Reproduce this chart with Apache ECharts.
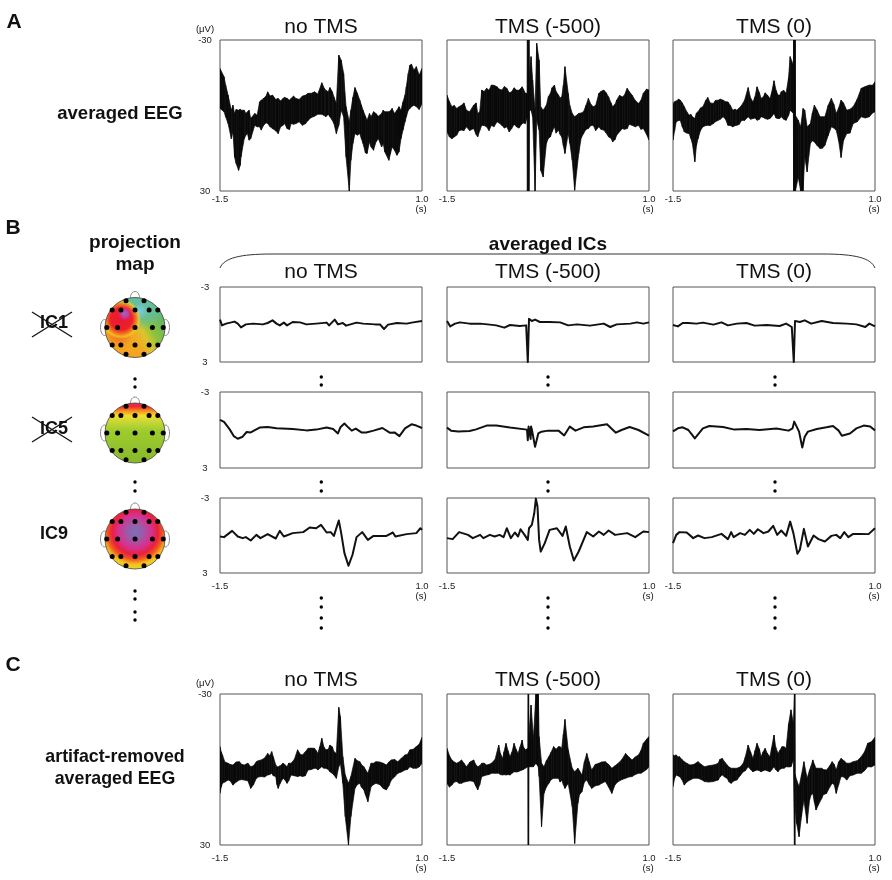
<!DOCTYPE html>
<html><head><meta charset="utf-8">
<style>html,body{margin:0;padding:0;background:#fff}#c{width:892px;height:880px}</style>
<script src="https://cdn.jsdelivr.net/npm/echarts@6/dist/echarts.min.js"></script>
</head><body><div id="c"></div>
<script>
// ---- Envelope of the averaged EEG traces (µV, negative is up), time in s ----
const A1_t=[-1.50,-1.45,-1.40,-1.36,-1.32,-1.27,-1.24,-1.20,-1.16,-1.12,-1.07,-1.01,-0.96,-0.91,-0.85,-0.78,-0.72,-0.67,-0.62,-0.56,-0.48,-0.41,-0.33,-0.24,-0.19,-0.14,-0.09,-0.06,-0.03,0.00,0.03,0.06,0.10,0.12,0.17,0.23,0.27,0.32,0.37,0.43,0.50,0.54,0.59,0.63,0.69,0.74,0.79,0.83,0.87,0.93,1.00];
const A1_hi=[-18.7,-15.4,-8.1,-2.1,-0.8,-2.1,-2.1,-2.1,-1.5,1.2,-0.8,-5.4,-6.8,-9.4,-8.1,-6.8,-6.8,-6.8,-6.8,-6.8,-7.7,-8.8,-9.4,-13,-10,-11.1,-7.4,-4.8,-24,-22,-16.7,-3.5,2.5,-2.1,-11.1,-6.1,-2.1,1.9,0.5,-0.8,-0.8,-1.5,-1.5,-2.8,-2.1,-2.1,-8.1,-16.7,-20.4,-19.4,-18.7];
const A1_lo=[-2.8,-1.5,3.2,9.2,16.5,21.8,16.5,9.2,7.2,9.2,3.9,4.5,3.9,3.2,5.2,7.2,3.9,5.2,3.2,3.2,3.9,1.9,0.3,-0.5,0.5,0.5,3.2,7.2,3.9,-2.1,0.5,16.5,30,17.8,7.2,7.2,11.1,15.1,12.5,10.5,12.5,14.5,17.8,12.5,15.8,9.2,2.5,-2.1,-3.5,-3.5,-4.8];
const A1_t2=[-1.43,-1.34,-1.30,-1.25,-1.18,-1.14,-1.04,-0.99,-0.93,-0.88,-0.81,-0.75,-0.70,-0.64,-0.59,-0.52,-0.44,-0.37,-0.29,-0.21,-0.16,-0.11,0.145,0.20,0.25,0.30,0.35,0.40,0.46,0.52,0.61,0.66,0.715,0.765,0.806,0.85,0.90,0.965];
const A1_hi2=[-12.1,-4.1,-2.4,-2.5,-0.8,-2.1,-0.1,-6.1,-7.7,-7.7,-6.4,-5.8,-7.2,-6.1,-7.7,-6.4,-8.1,-8.8,-8.5,-10.8,-9.4,-9.4,-7.2,-8.8,-4.1,0.3,-0.8,-1.5,0.3,-2.1,-1.9,-0.8,-3.5,-5.4,-11.4,-20,-18,-16];
const A1_lo2=[0.5,6.5,19.1,19.8,7.8,9.8,4.5,5.8,2.9,4.5,6.1,4.5,3.2,5.6,3.5,2.5,3.2,0.8,-0.5,0,-0.5,1.9,11.1,7.8,9.2,14.9,10.5,13.8,9.2,11.1,15.1,13.8,14.5,5.8,0.5,-2.8,-4.1,-2.4];

const A2_t=[-1.5,-1.44,-1.38,-1.32,-1.26,-1.17,-1.12,-1.07,-1.01,-0.95,-0.88,-0.82,-0.76,-0.70,-0.64,-0.57,-0.53,-0.507,-0.505,-0.485,-0.48,-0.46,-0.44,-0.41,-0.39,-0.36,-0.34,-0.31,-0.27,-0.22,-0.17,-0.12,-0.08,-0.04,0.00,0.05,0.08,0.13,0.19,0.25,0.31,0.38,0.44,0.50,0.55,0.60,0.67,0.73,0.79,0.87,0.93,1.00];
const A2_hi=[-8.1,-3.5,-2.8,-4.1,-2.1,-4.1,-0.8,-10.1,-10.8,-12.1,-11.4,-10.1,-10.8,-9.4,-10.1,-11.4,-8.8,-8.8,-30,-30,-15.4,-23.4,-14.1,-2.1,-28.7,-22,-3.5,-2.1,-4.1,-8.8,-12.1,-8.1,-7.4,-19.4,-8.8,-0.8,0.5,-0.8,-1.5,-6.8,-3.5,-8.8,-10.1,-7.4,-3.5,-6.1,-7.4,-10.8,-8.1,-4.8,-8.8,-10.1];
const A2_lo=[6.5,9.2,7.8,5.8,4.5,5.2,8.5,3.9,4.5,3.9,2.5,3.9,4.5,5.2,4.5,3.2,3.2,0.5,30,30,-2.1,-2.1,0.5,30,1.9,5.8,21.8,24.4,11.1,8.5,4.5,5.8,8.5,15.1,7.2,17.8,29.7,15.1,7.2,5.2,3.9,4.5,5.8,8.5,10.5,7.8,5.2,5.2,3.9,3.9,5.2,9.8];
const A2_t2=[-1.47,-1.41,-1.35,-1.29,-1.22,-1.14,-1.095,-1.04,-0.98,-0.92,-0.855,-0.79,-0.73,-0.67,-0.61,-0.555,-0.245,-0.20,-0.15,-0.10,-0.06,0.02,0.16,0.22,0.28,0.34,0.405,0.47,0.53,0.58,0.635,0.695,0.755,0.83,0.90,0.97];
const A2_hi2=[-5.5,-4,-3.5,-5,-1.5,-5,-1.5,-9.5,-10,-12,-10.5,-11.5,-9,-11,-10,-10.5,-7.5,-11,-9.5,-7,-12,-4,-1,-4,-4.5,-4,-9.5,-9,-5,-4.5,-8,-8,-9.5,-6,-6,-10.5];
const A2_lo2=[8.5,8.5,6,6,6,7.5,6,4,6,4.5,3,5,6.5,3.5,5,3,9,6.5,7,7.5,12,11,9,5.5,4,6,5.5,7,9,9.5,6.5,5.5,3.5,4.5,5.5,7.5];

const A3_t=[-1.5,-1.46,-1.41,-1.36,-1.30,-1.26,-1.23,-1.19,-1.13,-1.07,-1.00,-0.94,-0.88,-0.82,-0.76,-0.71,-0.65,-0.57,-0.51,-0.46,-0.41,-0.36,-0.30,-0.25,-0.20,-0.16,-0.10,-0.05,-0.01,-0.007,0.013,0.016,0.05,0.08,0.11,0.13,0.16,0.20,0.25,0.32,0.38,0.46,0.52,0.58,0.65,0.73,0.83,0.93,1.00];
const A3_hi=[-4.8,-5.8,-6.1,-3.5,-0.1,0.5,1.2,-1.5,-3.5,-7.2,-4.8,-6.1,-6.1,-5.4,-2.1,-2.1,-4.1,-11.1,-5.4,-11.4,-6.8,-9,-6.8,-13.8,-8.1,-9.4,-8.8,-23.4,-20,-30,-30,0,1.9,4.5,-2.8,-2.1,4.5,3.2,-4.1,0.5,0.5,-6.8,-0.8,-6.1,-2.1,-3.5,-10.8,-12.1,-13.4];
const A3_lo=[9.8,2.5,1.9,6.5,7.2,11.1,18.4,9.2,4.5,3.9,3.2,1.9,0.5,3.9,4.5,3.9,1.9,0.5,1.2,1.9,0.5,1.2,1.2,-0.8,1.2,0.5,1.9,-2.1,-0.8,30,30,30,24.4,30,30,16.5,22.4,11.1,10.5,13.1,11.8,4.5,5.8,16.7,7.2,3.2,0.5,0.5,-1.5];
const A3_t2=[-1.48,-1.43,-1.385,-1.33,-1.28,-1.21,-1.16,-1.095,-1.04,-0.975,-0.915,-0.85,-0.79,-0.73,-0.68,-0.615,-0.54,-0.485,-0.43,-0.38,-0.33,-0.28,-0.225,-0.18,-0.13,-0.07,0.225,0.285,0.35,0.42,0.49,0.55,0.61,0.69,0.78,0.88,0.97];
const A3_hi2=[-5.5,-6.5,-5,-1.5,-0.5,-1,-3,-6,-5,-6,-6.5,-5.5,-4,-2.5,-3,-6,-7,-7.5,-9,-7.5,-8,-9,-10,-8,-10,-15,-1,-2,0.5,-4,-4.5,-3,-5,-2.5,-6.5,-11.5,-12];
const A3_lo2=[6,2,4.5,7,9,12,6,4,4,2.5,1.5,1.5,4,4,3.5,2,1.5,1,1.5,0.8,1.5,0.5,1,1.2,1.5,0,10,12,13,8,5,10,10,7,2.5,1,-1];

const C1_t=[-1.50,-1.47,-1.40,-1.34,-1.26,-1.20,-1.12,-1.05,-0.99,-0.91,-0.86,-0.81,-0.78,-0.72,-0.67,-0.62,-0.54,-0.48,-0.41,-0.33,-0.29,-0.24,-0.19,-0.14,-0.09,-0.06,-0.03,-0.01,0.02,0.05,0.09,0.12,0.17,0.23,0.28,0.33,0.37,0.43,0.52,0.56,0.62,0.70,0.79,0.85,0.93,1.00];
const C1_hi=[-9.1,-5.8,-2.5,-1.8,-3.1,-1.8,-1.1,-3.1,-3.8,-6.4,-7.1,-1.8,-1.1,-2.5,-1.1,-2.5,-7.8,-5.8,-8.4,-8.4,-6.4,-12.4,-7.8,-9.7,-7.1,-6.4,-24.7,-21,-5.1,2.2,5.5,2.8,-4.4,-3.1,-1.1,1.5,-2.5,-3.1,-2.5,-1.8,-3.8,-3.1,-5.8,-7.8,-9.1,-12.8];
const C1_lo=[9.5,5.5,4.2,6.2,4.2,4.2,7.5,3.5,2.8,2.2,1.5,2.8,7.5,3.5,5.5,2.2,2.8,2.8,0.2,-0.5,0.2,-1.1,-0.5,0.9,2.2,3.5,-1.1,-2.5,5.5,18.7,30,18.7,7.5,5.5,8.1,12.8,6.8,5.5,7.5,8.1,4.2,1.5,0.2,-1.1,-0.5,-2.5];
const C1_t2=[-1.485,-1.44,-1.375,-1.30,-1.23,-1.155,-1.085,-1.025,-0.95,-0.885,-0.84,-0.795,-0.755,-0.70,-0.65,-0.58,-0.505,-0.445,-0.37,-0.31,-0.265,-0.215,-0.16,-0.11,0.20,0.25,0.30,0.40,0.475,0.59,0.66,0.745,0.82,0.89,0.965];
const C1_hi2=[-7,-3,-2,-3,-2,-2.5,-1.5,-3.5,-4.5,-5.5,-5,-1,-1.5,-2,-2.5,-4,-6,-7,-8.5,-7.5,-9,-9,-8,-9,-3.5,-2,0,-2.5,-3,-3,-4,-4.5,-6,-8,-10];
const C1_lo2=[7,5,4.5,5,4,4.5,6,3,3,2,2.5,6,5.5,4,4.5,2.5,2.5,2.5,0,-0.5,-0.5,-0.5,0,1.5,6,7,10,6,6,6.5,3,1,0,-0.5,-1];

const C2_t=[-1.5,-1.44,-1.38,-1.32,-1.26,-1.17,-1.12,-1.07,-1.01,-0.95,-0.86,-0.81,-0.77,-0.72,-0.67,-0.62,-0.57,-0.53,-0.498,-0.495,-0.49,-0.487,-0.46,-0.43,-0.40,-0.37,-0.36,-0.33,-0.30,-0.24,-0.18,-0.12,-0.08,-0.04,0.00,0.05,0.08,0.12,0.17,0.23,0.29,0.38,0.46,0.54,0.62,0.71,0.79,0.87,0.93,1.00];
const C2_hi=[-8.4,-3.8,-2.5,-3.8,-1.1,-3.8,-1.1,-2.5,-1.8,-2.5,-9.7,-4.4,-10.4,-5.1,-10.4,-6.4,-11.7,-7.8,-8.4,-30,-30,-13.1,-25.6,-12.4,-30,-30,-13.1,-2.5,-1.1,-5.1,-9.1,-9.1,-8.4,-19.9,-7.8,-0.5,0.9,-0.5,2.2,-6.4,0.2,-2.5,-3.1,-0.5,-2.5,-6.4,-3.8,-5.8,-10.4,-13.1];
const C2_lo=[5.5,6.2,4.8,5.5,4.8,4.8,8.1,2.8,2.2,1.5,1.5,2.2,2.2,2.2,0.9,0.9,0.2,-0.5,-1.1,30,30,-1.1,-1.1,-1.1,-2.5,-1.1,2.8,22.7,9.5,5.5,3.5,3.5,4.2,7.5,5.5,14.8,29.4,13.4,8.8,4.2,7.5,6.2,4.8,9.5,4.8,3.5,2.8,1.5,0.9,-1.1];
const C2_t2=[-1.47,-1.41,-1.35,-1.29,-1.215,-1.145,-1.095,-1.04,-0.98,-0.905,-0.84,-0.795,-0.745,-0.695,-0.645,-0.595,-0.555,-0.27,-0.21,-0.15,-0.10,-0.06,0.14,0.20,0.26,0.335,0.415,0.50,0.58,0.665,0.75,0.83,0.90,0.97];
const C2_hi2=[-5.5,-3,-3,-2.5,-3,-2,-1.5,-2.5,-2,-4,-6.5,-7,-7.5,-7,-8,-9,-9,-3.5,-7,-8,-9,-14,0.5,-3,-3,-2,-3,-2,-1.5,-4,-5,-5,-7.5,-12];
const C2_lo2=[7,5,5.5,5,4.5,6.5,6,2.5,2,1.5,2,2,2,1.5,1,0.5,0,7,4,3.5,5,6,10,5,6,6.5,5.5,7,6,4,3,2,1.5,0];

const C3_t=[-1.5,-1.46,-1.42,-1.36,-1.29,-1.19,-1.11,-1.00,-0.94,-0.89,-0.83,-0.78,-0.71,-0.63,-0.57,-0.51,-0.46,-0.41,-0.36,-0.30,-0.25,-0.20,-0.15,-0.10,-0.04,-0.01,0.003,0.008,0.012,0.03,0.06,0.09,0.12,0.16,0.19,0.23,0.27,0.34,0.40,0.47,0.52,0.58,0.65,0.73,0.83,0.91,1.00];
const C3_hi=[-5.8,-5.8,-5.1,-3.1,-1.8,-3.1,-1.1,-1.8,-2.5,-4.4,-1.8,-0.5,-0.5,-2.5,-9.7,-4.4,-10.4,-5.1,-8.4,-5.1,-13.7,-6.4,-9.1,-8.4,-23.7,-18.4,-30,-30,2,4.2,6.8,2.2,-3.1,3.5,0.2,-3.8,-0.5,-0.5,0.2,-3.1,0.2,-4.4,-2.5,-3.1,-5.1,-10.4,-12.8];
const C3_lo=[6.8,2.2,2.8,6.2,4.2,3.5,4.8,4.8,4.2,2.2,3.5,5.5,4.2,0.9,-1.1,0.9,0.2,0.9,0.2,0.9,-1.1,0.9,-0.5,-1.1,-1.1,-3.8,30,30,15,21.4,26.7,18.7,12.1,21.4,12.1,9.5,16.1,11.5,9.5,5.5,9.5,2.8,4.2,2.2,1.5,-1.1,-1.8];
const C3_t2=[-1.48,-1.44,-1.39,-1.33,-1.245,-1.15,-1.06,-0.975,-0.92,-0.86,-0.805,-0.745,-0.67,-0.605,-0.54,-0.485,-0.43,-0.385,-0.335,-0.28,-0.23,-0.18,-0.125,-0.07,0.21,0.25,0.30,0.36,0.44,0.495,0.55,0.615,0.69,0.78,0.87,0.955];
const C3_hi2=[-5.5,-5,-4,-2.5,-2,-2,-1.5,-2,-4,-3,-1,-0.5,-1,-5,-7,-7.5,-8,-7,-6.5,-8.5,-9,-7.5,-9,-18,-1.5,-2,-0.5,0,-1.5,-2,-3,-3.5,-2.5,-3.5,-7,-11];
const C3_lo2=[3.5,2.5,4,5,3.5,4,5,4.5,3,3,5,4.5,2.5,0.5,0,0.5,0.5,0.5,0.5,0.2,0,0,-0.5,-1,10,13,14,10,7,6,6,3,2.5,1.5,0.5,-1];

// ---- Averaged independent components ----
const IC1_no_t=[-1.5,-1.475,-1.425,-1.32,-1.28,-1.24,-1.18,-1.09,-0.97,-0.91,-0.85,-0.80,-0.76,-0.71,-0.67,-0.60,-0.51,-0.43,-0.31,-0.18,-0.15,-0.08,-0.04,0.02,0.06,0.19,0.27,0.42,0.48,0.53,0.58,0.69,0.81,0.89,1.0];
const IC1_no_v=[-.39,.07,-.07,-.23,-.07,.23,-.01,-.07,-.01,-.12,-.33,-.07,.07,-.15,.07,-.2,-.17,-.01,-.07,-.15,.07,-.39,-.01,-.12,.09,-.15,-.07,-.01,-.01,.36,.01,-.12,-.07,-.17,-.28];
const IC1_m5_t=[-1.5,-1.46,-1.40,-1.34,-1.22,-1.09,-0.97,-0.89,-0.79,-0.72,-0.60,-0.52,-0.505,-0.50,-0.49,-0.485,-0.45,-0.41,-0.35,-0.23,-0.10,0.0,0.11,0.27,0.44,0.52,0.60,0.77,0.85,0.93,1.0];
const IC1_m5_v=[-.28,.15,-.07,-.17,-.07,-.07,.01,.07,.25,.04,.12,.07,.07,3,3,-.45,-.28,-.39,-.2,-.2,-.17,.07,-.01,.09,-.07,.2,-.01,-.07,-.17,-.07,-.17];
const IC1_z_t=[-1.5,-1.44,-1.38,-1.31,-1.21,-1.13,-1.0,-0.90,-0.82,-0.71,-0.59,-0.49,-0.34,-0.18,-0.10,-0.03,-0.01,-0.005,0.005,0.01,0.07,0.13,0.21,0.34,0.48,0.65,0.77,0.88,0.93,1.0];
const IC1_z_v=[.04,.15,-.12,-.12,-.07,-.15,.01,-.17,.07,-.07,-.12,.09,.04,.12,-.07,.2,.2,3,3,-.28,-.2,-.33,-.07,-.28,-.12,-.07,-.01,.2,-.07,.15];

const IC5_no_t=[-1.5,-1.45,-1.38,-1.33,-1.28,-1.22,-1.17,-1.12,-1.01,-0.91,-0.80,-0.60,-0.43,-0.31,-0.18,-0.10,-0.04,-0.01,0.04,0.09,0.13,0.18,0.25,0.31,0.40,0.51,0.60,0.66,0.72,0.79,0.87,0.93,1.0];
const IC5_no_v=[-.8,-.64,-.05,.48,.69,.53,.16,.19,-.19,-.24,-.13,-.08,.03,-.03,-.19,-.08,.27,-.21,-.51,-.19,.05,-.11,.19,.19,.05,-.16,.21,.19,.48,-.13,-.45,-.35,-.16];
const IC5_m5_t=[-1.5,-1.45,-1.36,-1.22,-1.14,-1.01,-0.89,-0.72,-0.51,-0.50,-0.49,-0.47,-0.465,-0.46,-0.45,-0.41,-0.37,-0.33,-0.25,-0.12,-0.05,0.02,0.09,0.19,0.31,0.48,0.59,0.66,0.76,0.87,1.0];
const IC5_m5_v=[-.19,.05,.11,.08,-.05,-.35,-.35,-.19,-.03,.8,-.27,-.27,.7,-.27,-.05,1.33,.27,.13,.05,.05,.43,-.27,.05,-.21,-.27,-.45,.21,0,-.24,0,.45];
const IC5_z_t=[-1.5,-1.44,-1.38,-1.31,-1.27,-1.23,-1.18,-1.13,-1.05,-0.88,-0.74,-0.59,-0.43,-0.22,-0.07,-0.02,0.0,0.02,0.04,0.06,0.10,0.13,0.17,0.28,0.40,0.48,0.55,0.59,0.69,0.77,0.86,0.94,1.0];
const IC5_z_v=[.11,-.13,-.21,0,.32,.66,.27,-.13,-.32,-.24,-.03,-.08,0,-.11,.05,-.13,-.66,-.4,-.53,.13,1.38,.53,.13,-.08,-.21,-.32,.05,.45,.27,-.13,-.35,-.27,.03];

const IC9_no_t=[-1.5,-1.45,-1.35,-1.28,-1.22,-1.18,-1.12,-1.05,-1.0,-0.91,-0.81,-0.76,-0.71,-0.60,-0.47,-0.39,-0.31,-0.25,-0.18,-0.13,-0.09,-0.03,0.0,0.04,0.09,0.14,0.19,0.26,0.33,0.40,0.56,0.64,0.67,0.81,0.93,0.98,1.0];
const IC9_no_v=[.08,.13,-.37,.08,.21,.13,.4,-.05,.21,-.11,.24,-.37,.08,-.19,-.27,-.64,-.58,-.85,-.24,-.27,.03,-1.2,-.19,1.41,2.42,1.54,.13,-.27,.35,.03,.03,-.24,.08,-.11,-.19,-.58,-.45];
const IC9_m5_t=[-1.5,-1.43,-1.35,-1.24,-1.18,-1.09,-1.05,-0.97,-0.91,-0.85,-0.80,-0.76,-0.71,-0.66,-0.62,-0.59,-0.54,-0.50,-0.485,-0.45,-0.42,-0.40,-0.38,-0.36,-0.34,-0.29,-0.23,-0.14,-0.07,-0.03,0.02,0.07,0.13,0.23,0.31,0.38,0.44,0.50,0.58,0.73,0.83,0.93,1.0];
const IC9_m5_v=[.21,.29,-.27,-.05,.21,-.05,.21,-.05,.08,-.05,.13,-.58,.21,-.24,.08,-.5,-.05,.35,-.58,-.85,-1.78,-2.95,-2.32,.35,1.28,.61,-.45,-.58,.03,-.72,.88,2.0,1.28,-.27,.08,-.32,-.05,-.4,-.05,-.19,.13,-.32,-.27];
const IC9_z_t=[-1.5,-1.46,-1.42,-1.33,-1.25,-1.19,-1.11,-1.02,-0.90,-0.82,-0.78,-0.75,-0.67,-0.61,-0.55,-0.50,-0.45,-0.38,-0.32,-0.26,-0.21,-0.16,-0.10,-0.05,-0.01,0.04,0.07,0.12,0.17,0.24,0.30,0.38,0.46,0.52,0.57,0.62,0.67,0.73,0.81,0.92,1.0];
const IC9_z_v=[.61,-.05,-.27,-.24,.21,0,.21,.13,-.13,.29,-.27,.13,-.19,-.05,-.45,-.13,-.5,-.19,-.32,-.77,-.05,-.4,.03,-1.11,-.19,1.46,1.14,-.53,.88,0,.29,.48,.03,-.05,.21,-.27,.13,-.13,-.13,-.11,-.58];

// ---- Electrode positions on the projection maps (normalised head coordinates) ----
const elecX=[-.3,.3,-.76,-.47,0,.47,.76,-.94,-.58,0,.58,.94,-.76,-.47,0,.47,.76,-.3,.3];
const elecY=[.89,.89,.58,.58,.58,.58,.58,0,0,0,0,0,-.58,-.58,-.58,-.58,-.58,-.89,-.89];

// ---- Labels ----
const conditions=['no TMS','TMS (-500)','TMS (0)'];
const eegTicks=[-30,30], icTicks=[-3,3], timeTicks=[-1.5,1.0];

// ---- Layout ----
const FONT='"Liberation Sans",Arial,sans-serif';
const colX=[220,447,673], PW=202;
function mergeBand(t,hi,lo,t2,hi2,lo2){
  return t.map((x,k)=>[x,hi[k],lo[k]]).concat(t2.map((x,k)=>[x,hi2[k],lo2[k]])).sort((a,b)=>a[0]-b[0]);
}
const eegRows=[{top:40,h:151,m:3,panels:[mergeBand(A1_t,A1_hi,A1_lo,A1_t2,A1_hi2,A1_lo2),mergeBand(A2_t,A2_hi,A2_lo,A2_t2,A2_hi2,A2_lo2),mergeBand(A3_t,A3_hi,A3_lo,A3_t2,A3_hi2,A3_lo2)]},
               {top:694,h:151,m:8,panels:[mergeBand(C1_t,C1_hi,C1_lo,C1_t2,C1_hi2,C1_lo2),mergeBand(C2_t,C2_hi,C2_lo,C2_t2,C2_hi2,C2_lo2),mergeBand(C3_t,C3_hi,C3_lo,C3_t2,C3_hi2,C3_lo2)]}];
const icRows=[{top:287,h:75,panels:[[IC1_no_t,IC1_no_v],[IC1_m5_t,IC1_m5_v],[IC1_z_t,IC1_z_v]]},
              {top:392,h:76,panels:[[IC5_no_t,IC5_no_v],[IC5_m5_t,IC5_m5_v],[IC5_z_t,IC5_z_v]]},
              {top:498,h:75,panels:[[IC9_no_t,IC9_no_v],[IC9_m5_t,IC9_m5_v],[IC9_z_t,IC9_z_v]]}];
const grid=[],xAxis=[],yAxis=[],series=[];
const lab={color:'#222',fontFamily:FONT,fontSize:9.5};
function addPanel(left,top,w,h,yr,yTicks,showX,showY,xm){
  const i=grid.length;
  grid.push({left,top,width:w,height:h,show:true,borderColor:'#555',borderWidth:1,containLabel:false});
  xAxis.push({gridIndex:i,type:'value',min:-1.5,max:1.0,axisLine:{show:false},axisTick:{show:false},splitLine:{show:false},
    axisLabel:{show:showX,customValues:timeTicks,margin:xm,formatter:v=>Number(v).toFixed(1),...lab}});
  yAxis.push({gridIndex:i,type:'value',min:-yr,max:yr,inverse:true,axisLine:{show:false},axisTick:{show:false},splitLine:{show:false},
    axisLabel:{show:showY,customValues:yTicks,margin:15,align:'center',formatter:v=>String(v),...lab}});
  return i;
}
function bandItem(rows){
  return function(params,api){
    const k=params.dataIndex; if(k>=rows.length-1) return;
    const a=rows[k],b=rows[k+1];
    const pts=[api.coord([a[0],a[1]]),api.coord([b[0],b[1]]),api.coord([b[0],b[2]]),api.coord([a[0],a[2]])];
    return {type:'polygon',shape:{points:pts},style:{fill:'#0a0a0a',stroke:'#0a0a0a',lineWidth:0.7}};
  };
}
eegRows.forEach(r=>r.panels.forEach((rows,c)=>{
  const i=addPanel(colX[c],r.top,PW,r.h,30,eegTicks,true,c===0,r.m);
  series.push({type:'custom',xAxisIndex:i,yAxisIndex:i,clip:true,data:rows,encode:{x:0,y:[1,2]},renderItem:bandItem(rows),silent:true});
}));
icRows.forEach((r,ri)=>r.panels.forEach((p,c)=>{
  const i=addPanel(colX[c],r.top,PW,r.h,3,icTicks,ri===2,c===0,8);
  const [t,v]=p;
  series.push({type:'line',xAxisIndex:i,yAxisIndex:i,data:t.map((x,k)=>[x,v[k]]),showSymbol:false,silent:true,clip:true,
    lineStyle:{color:'#111',width:2,join:'round'}});
}));
// heads
const heads=[{cy:327.5},{cy:433},{cy:539}], HX=135, HR=30;
heads.forEach(h=>{
  const i=grid.length;
  grid.push({left:HX-HR,top:h.cy-HR,width:2*HR,height:2*HR,show:false});
  xAxis.push({gridIndex:i,type:'value',min:-1,max:1,show:false});
  yAxis.push({gridIndex:i,type:'value',min:-1,max:1,show:false});
  series.push({type:'scatter',xAxisIndex:i,yAxisIndex:i,data:elecX.map((x,k)=>[x,elecY[k]]),symbolSize:5,itemStyle:{color:'#000',opacity:1},silent:true,clip:false,z:5});
});
// ---- static decoration ----
const g=[];
function txt(text,x,y,size,bold,align){g.push({type:'text',silent:true,z:10,style:{text,x,y,fill:'#111',font:(bold?'bold ':'')+size+'px '+FONT,textAlign:align||'center',textVerticalAlign:'middle'}});}
txt('A',14,22,21,true);txt('B',13,228,21,true);txt('C',13,665,21,true);
[27,272,680].forEach(y=>conditions.forEach((n,c)=>txt(n,colX[c]+PW/2,y,21,false)));
[209,596,868].forEach(y=>colX.forEach(x=>txt('(s)',x+PW-1,y,9.5,false)));
txt('(μV)',205,29,9.5,false);txt('(μV)',205,683,9.5,false);
txt('averaged EEG',120,114,18.5,true);
txt('artifact-removed',115,757,17.8,true);txt('averaged EEG',115,779,17.8,true);
txt('projection',135,243,19,true);txt('map',135,265,19,true);
txt('averaged ICs',548,245,19,true);
txt('IC1',54,323,18,true);txt('IC5',54,429,18,true);txt('IC9',54,534,18,true);
[[312,337],[417,442]].forEach(([a,b])=>{
  g.push({type:'line',z:11,shape:{x1:32,y1:a,x2:72,y2:b},style:{stroke:'#111',lineWidth:1.3}});
  g.push({type:'line',z:11,shape:{x1:72,y1:a,x2:32,y2:b},style:{stroke:'#111',lineWidth:1.3}});
});
const br={stroke:'#333',lineWidth:1,fill:null};
g.push({type:'bezierCurve',shape:{x1:220,y1:268,cpx1:224,cpy1:258,cpx2:240,cpy2:254,x2:272,y2:254},style:br});
g.push({type:'line',shape:{x1:272,y1:254,x2:823,y2:254},style:br});
g.push({type:'bezierCurve',shape:{x1:823,y1:254,cpx1:855,cpy1:254,cpx2:871,cpy2:258,x2:875,y2:268},style:br});
// dotted ellipses
function dots(x,ys){ys.forEach(y=>g.push({type:'circle',shape:{cx:x,cy:y,r:1.7},style:{fill:'#000'}}));}
dots(135,[379,387,482,491,591,599,612,620]);
[321.3,548,775].forEach(x=>dots(x,[377,385,482,491,598,607,618,628]));
// projection maps
const headFills=[
 [{type:'linear',x:.1,y:.85,x2:1,y2:.35,colorStops:[{offset:0,color:'#f3a01e'},{offset:.42,color:'#f4a722'},{offset:.58,color:'#dcc42e'},{offset:.72,color:'#8fc23c'},{offset:1,color:'#5cb468'}]},
  {type:'radial',x:.62,y:.04,r:.5,colorStops:[{offset:0,color:'rgba(98,190,170,1)'},{offset:.6,color:'rgba(100,190,150,.9)'},{offset:1,color:'rgba(100,190,150,0)'}]},
  {type:'radial',x:.2,y:.06,r:.24,colorStops:[{offset:0,color:'rgba(90,190,190,1)'},{offset:.6,color:'rgba(120,200,120,.9)'},{offset:1,color:'rgba(120,200,120,0)'}]},
  {type:'radial',x:.58,y:.23,r:.14,colorStops:[{offset:0,color:'rgba(125,200,230,1)'},{offset:1,color:'rgba(125,200,230,0)'}]},
  {type:'radial',x:.24,y:.62,r:.22,colorStops:[{offset:0,color:'rgba(238,100,34,.9)'},{offset:1,color:'rgba(238,100,34,0)'}]},
  {type:'radial',x:.27,y:.36,r:.33,colorStops:[{offset:0,color:'rgba(232,24,50,1)'},{offset:.55,color:'rgba(236,32,40,1)'},{offset:.78,color:'rgba(244,130,30,.95)'},{offset:.9,color:'rgba(240,210,40,.7)'},{offset:1,color:'rgba(240,210,40,0)'}]},
  {type:'radial',x:.33,y:.27,r:.13,colorStops:[{offset:0,color:'rgba(140,110,190,1)'},{offset:.45,color:'rgba(200,60,160,1)'},{offset:1,color:'rgba(220,30,110,0)'}]}],
 [{type:'linear',x:0,y:0,x2:0,y2:1,colorStops:[{offset:0,color:'#e6226a'},{offset:.06,color:'#ee2c30'},{offset:.13,color:'#f58c1e'},{offset:.21,color:'#f4dc2c'},{offset:.31,color:'#c9d836'},{offset:.45,color:'#9fcc2e'},{offset:1,color:'#86b92c'}]}],
 [{type:'radial',x:.5,y:.38,r:.66,colorStops:[{offset:0,color:'#7c70b8'},{offset:.2,color:'#9a5ca8'},{offset:.42,color:'#d8308e'},{offset:.58,color:'#e8203c'},{offset:.7,color:'#f05a20'},{offset:.82,color:'#f5c020'},{offset:1,color:'#dfe02e'}]}]
];
heads.forEach((h,n)=>{
  const ear={fill:'#fff',stroke:'#888',lineWidth:1};
  g.push({type:'ellipse',shape:{cx:HX,cy:h.cy-HR,rx:4.5,ry:6},style:ear});
  g.push({type:'ellipse',shape:{cx:HX-HR-.5,cy:h.cy,rx:4,ry:8},style:ear});
  g.push({type:'ellipse',shape:{cx:HX+HR+.5,cy:h.cy,rx:4,ry:8},style:ear});
  headFills[n].forEach(f=>g.push({type:'circle',shape:{cx:HX,cy:h.cy,r:HR},style:{fill:f}}));
  g.push({type:'circle',shape:{cx:HX,cy:h.cy,r:HR},style:{fill:null,stroke:'#444',lineWidth:.8}});
});
echarts.init(document.getElementById('c'),null,{renderer:'canvas'}).setOption({
  animation:false,backgroundColor:'#fff',tooltip:{show:false},legend:{show:false},
  grid,xAxis,yAxis,series,graphic:{elements:g}
});
</script></body></html>
